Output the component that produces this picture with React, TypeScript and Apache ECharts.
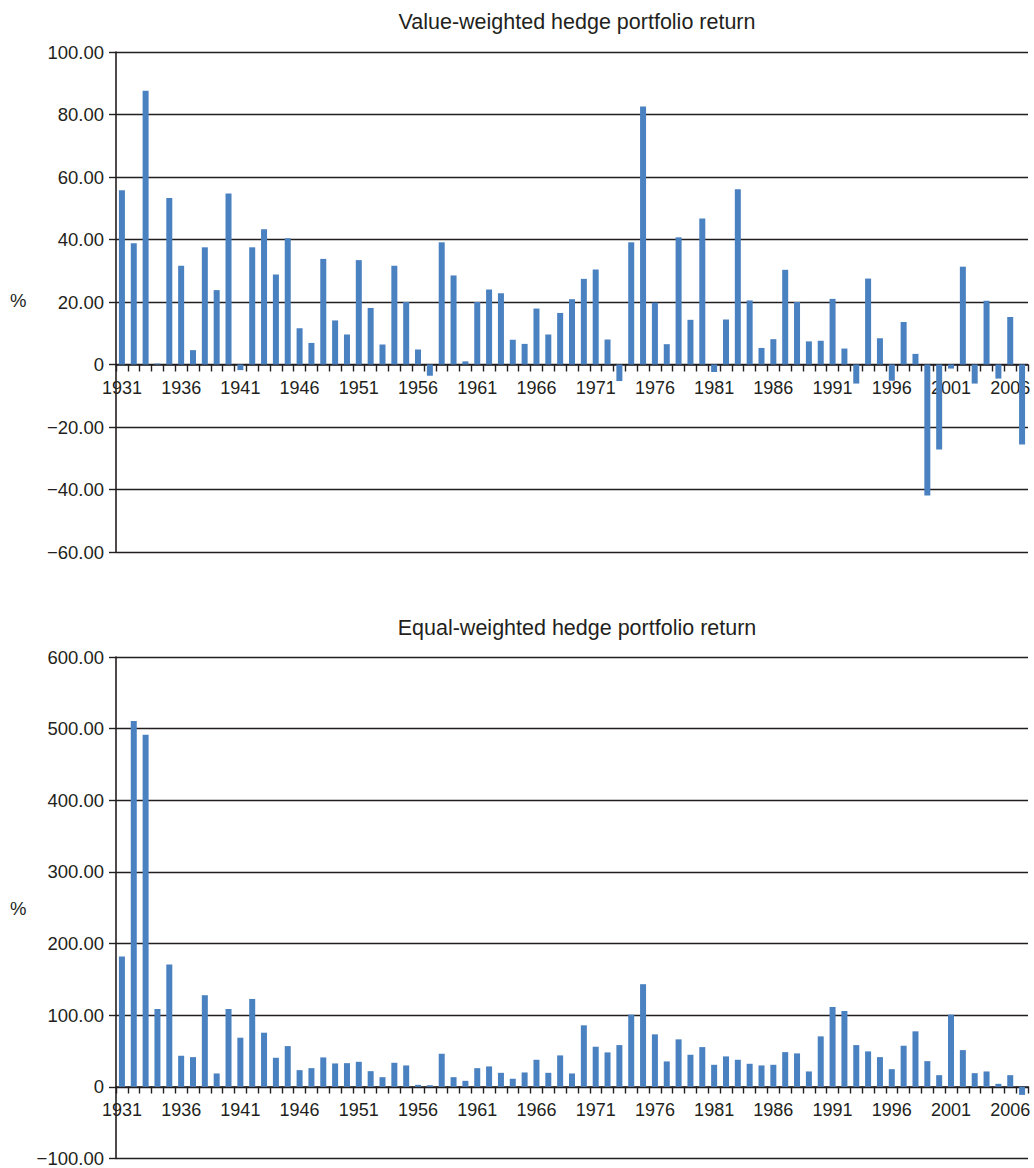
import React, { useEffect, useRef } from "react";
import * as echarts from "echarts";

const years: string[] = [];
for (let y = 1931; y <= 2007; y++) years.push(String(y));

const valueWeighted = [
  55.8, 38.8, 87.6, 0.3, 53.3, 31.6, 4.6, 37.5, 23.8, 54.7,
  -1.8, 37.5, 43.3, 28.8, 40.4, 11.6, 6.9, 33.8, 14.1, 9.6,
  33.4, 18.1, 6.4, 31.6, 20.0, 4.8, -3.6, 39.1, 28.5, 1.0,
  20.0, 24.0, 22.8, 7.9, 6.6, 17.9, 9.6, 16.5, 20.9, 27.4,
  30.4, 8.0, -5.3, 39.1, 82.6, 19.8, 6.5, 40.7, 14.3, 46.7,
  -2.4, 14.4, 56.1, 20.5, 5.3, 8.1, 30.3, 20.0, 7.4, 7.6,
  21.0, 5.1, -6.1, 27.5, 8.4, -5.2, 13.6, 3.4, -41.9, -27.2,
  -1.3, 31.3, -6.1, 20.4, -4.5, 15.2, -25.6,
];

const equalWeighted = [
  182, 510.5, 491.4, 108.7, 170.8, 43.4, 41.5, 127.9, 18.7, 108.7,
  68.6, 122.7, 75.6, 40.6, 56.9, 23.3, 26.1, 41.1, 32.7, 33.1,
  35.0, 21.9, 13.5, 33.6, 29.9, 2.8, 2.3, 46.2, 13.5, 8.4,
  26.1, 28.5, 19.6, 11.2, 20.1, 37.8, 19.6, 43.9, 18.7, 85.9,
  56.0, 48.1, 58.3, 100.8, 143.3, 73.3, 35.5, 66.3, 44.8, 55.5,
  30.8, 42.5, 37.8, 32.2, 29.9, 30.8, 48.5, 46.7, 21.5, 70.5,
  111.5, 105.9, 58.3, 49.5, 41.5, 24.7, 57.4, 77.5, 35.9, 16.3,
  100.8, 51.3, 19.1, 21.5, 4.2, 16.3, -11.2,
];

const titles = ["Value-weighted hedge portfolio return", "Equal-weighted hedge portfolio return"];
const unitLabel = "%";

const FONT = "'Liberation Sans', Arial, Helvetica, sans-serif";
const INK = "#231f20";
const BAR = "#4a81c0";

const fmt = (v: number) => {
  if (v === 0) return "0";
  if (v < 0) return "\u2212" + Math.abs(v).toFixed(2);
  return v.toFixed(2);
};

// grid geometry
const GRID_LEFT = 116;
const GRID_WIDTH = 912;
const TOP1 = 52;
const H1 = 500;
const TOP2 = 657;
const H2 = 504;
const Y1 = { min: -60, max: 100, interval: 20 };
const Y2 = { min: -100, max: 600, interval: 100 };

export default function App() {
  const ref = useRef<HTMLDivElement>(null);
  useEffect(() => {
    if (!ref.current) return;
    const chart = echarts.init(ref.current, undefined, { renderer: "svg" });
    // offset that moves a bottom category axis up to the value-axis zero
    const zeroOffset = (y: { min: number; max: number }, h: number) =>
      -(h * (0 - y.min)) / (y.max - y.min);
    const xAxisBase = (gridIndex: number, offset: number) => ({
      type: "category",
      gridIndex,
      position: "bottom",
      offset,
      data: years,
      boundaryGap: true,
      axisLine: { onZero: false, lineStyle: { color: INK, width: 1.6 } },
      axisTick: { show: true, interval: 0, length: 7, inside: false, lineStyle: { color: INK, width: 1.4 } },
      axisLabel: {
        interval: 4,
        margin: 14,
        color: INK,
        fontSize: 18,
        fontFamily: FONT,
      },
      splitLine: { show: false },
    });
    const yAxisBase = (gridIndex: number, y: { min: number; max: number; interval: number }) => ({
      type: "value",
      gridIndex,
      min: y.min,
      max: y.max,
      interval: y.interval,
      axisLine: { show: true, lineStyle: { color: INK, width: 1.6 } },
      axisTick: { show: true, length: 7, lineStyle: { color: INK, width: 1.4 } },
      axisLabel: {
        formatter: fmt,
        margin: 12,
        color: INK,
        fontSize: 18.5,
        fontFamily: FONT,
      },
      splitLine: { show: true, lineStyle: { color: INK, width: 1.3 } },
    });
    const titleStyle = { fontFamily: FONT, fontSize: 21.5, fontWeight: "normal", color: INK };
    chart.setOption({
      animation: false,
      backgroundColor: "#ffffff",
      title: [
        { text: titles[0], left: 572, top: 6, textAlign: "center", textStyle: titleStyle },
        { text: titles[1], left: 572, top: 612, textAlign: "center", textStyle: titleStyle },
      ],
      graphic: [
        {
          type: "text",
          left: 10,
          top: 291,
          style: { text: unitLabel, fontFamily: FONT, fontSize: 18.5, fill: INK },
        },
        {
          type: "text",
          left: 10,
          top: 899,
          style: { text: unitLabel, fontFamily: FONT, fontSize: 18.5, fill: INK },
        },
      ],
      grid: [
        { left: GRID_LEFT, width: GRID_WIDTH, top: TOP1, height: H1 },
        { left: GRID_LEFT, width: GRID_WIDTH, top: TOP2, height: H2 },
      ],
      xAxis: [xAxisBase(0, zeroOffset(Y1, H1)), xAxisBase(1, zeroOffset(Y2, H2))],
      yAxis: [yAxisBase(0, Y1), yAxisBase(1, Y2)],
      series: [
        {
          type: "bar",
          xAxisIndex: 0,
          yAxisIndex: 0,
          data: valueWeighted,
          barWidth: 6,
          itemStyle: { color: BAR },
        },
        {
          type: "bar",
          xAxisIndex: 1,
          yAxisIndex: 1,
          data: equalWeighted,
          barWidth: 6,
          itemStyle: { color: BAR },
        },
      ],
    });
    return () => chart.dispose();
  }, []);
  return (
    <div
      ref={ref}
      style={{ position: "absolute", left: 0, top: 0, width: 1034, height: 1168 }}
    />
  );
}
